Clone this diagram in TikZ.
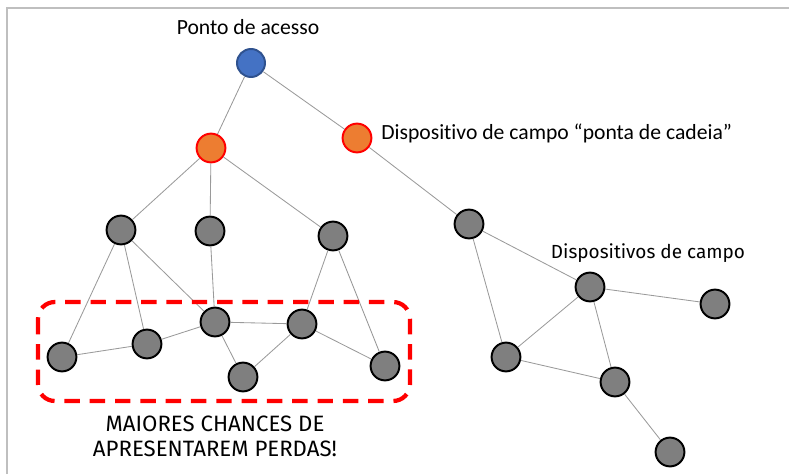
\documentclass[tikz,border=0pt]{standalone}
\usepackage{fontspec}
\setmainfont[Ligatures=NoCommon]{Carlito}
\newfontfamily\capsfont{Fira Sans}
\usepackage{xcolor}
\definecolor{acesso}{HTML}{4472C4}
\definecolor{acessoborda}{HTML}{2F528F}
\definecolor{ponta}{HTML}{ED7D31}
\definecolor{campo}{HTML}{7F7F7F}
\definecolor{moldura}{HTML}{BFBFBF}
\definecolor{ligacao}{HTML}{9A9A9A}

\begin{document}
\begin{tikzpicture}
    [x=0.025cm, y=-0.025cm,
    disp/.style = {circle, draw=black, fill=campo, line width=1.4pt,
                   minimum size=0.72cm, inner sep=0pt},
    pontadisp/.style = {disp, draw=red, fill=ponta},
    ap/.style = {disp, draw=acessoborda, fill=acesso, minimum size=0.7cm},
    lig/.style = {draw=ligacao, line width=0.6pt},
    rotulo/.style = {font=\fontsize{15.4}{18}\selectfont, inner sep=0pt},
    aviso/.style = {font=\capsfont\fontsize{15.8}{17.8}\selectfont, align=center, inner sep=0pt}]
    \useasboundingbox (0,0) rectangle (789,474);
    % Moldura
    \draw[moldura, line width=1.4pt] (7,474) -- (7,8) -- (789,8);
    % Ponto de acesso
    \node[ap] (AP) at (251,63) {};
    \node[rotulo] (lAP) at (248,27) {Ponto de acesso};
    % Dispositivos ponta de cadeia
    \node[pontadisp] (O1) at (211,148) {};
    \node[pontadisp] (O2) at (357,138) {};
    \node[rotulo, anchor=west] (lO2) at (381,133) {Dispositivo de campo “ponta de cadeia”};
    % Ramo da esquerda
    \node[disp] (G1) at (121,230) {};
    \node[disp] (G2) at (210,231) {};
    \node[disp] (G3) at (333,236) {};
    \node[disp] (G4) at (62,357) {};
    \node[disp] (G5) at (147,344) {};
    \node[disp] (G6) at (215,322) {};
    \node[disp] (G7) at (302,324) {};
    \node[disp] (G8) at (243,377) {};
    \node[disp] (G9) at (385,366) {};
    % Ramo da direita
    \node[disp] (R1) at (469,224) {};
    \node[disp] (R2) at (590,287) {};
    \node[disp] (R3) at (715,304) {};
    \node[disp] (R4) at (506,357) {};
    \node[disp] (R5) at (615,382) {};
    \node[disp] (R6) at (670,452) {};
    \node[aviso, font=\capsfont\fontsize{13.5}{16}\selectfont] (lR) at (648,253) {Dispositivos de campo};
    % Ligacoes
    \foreach \a/\b in {AP/O1, AP/O2, O2/R1, O1/G1, O1/G2, O1/G3,
                       G1/G4, G1/G5, G1/G6, G2/G6, G3/G7, G3/G9,
                       G4/G5, G5/G6, G6/G7, G6/G8, G8/G7, G7/G9,
                       R1/R4, R1/R2, R2/R3, R2/R4, R2/R5, R4/R5, R5/R6}
        \path[lig] (\a) -- (\b);
    % Zona critica
    \draw[red, line width=3pt, dash pattern=on 11pt off 7pt, rounded corners=12pt]
        (38,302) rectangle (410,401);
    \node[aviso] (lZ) at (215,436) {MAIORES CHANCES DE\\APRESENTAREM PERDAS!};
\end{tikzpicture}
\end{document}
